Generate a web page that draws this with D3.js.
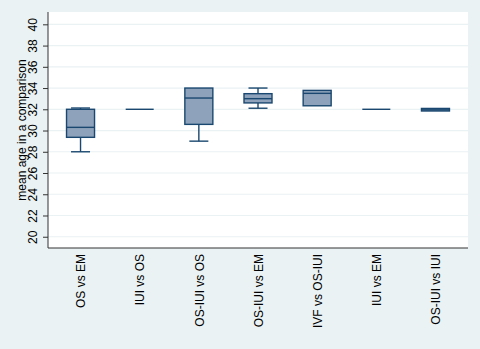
<!DOCTYPE html>
<html>
<head>
<meta charset="utf-8">
<script src="https://cdn.jsdelivr.net/npm/d3@7"></script>
<style>
  body { margin: 0; background: #eaf2f3; }
  text { font-family: "Liberation Sans", Arial, sans-serif; fill: #000; }
</style>
</head>
<body>
<script>
var w = 480;
var h = 349;

// data
var categories = ["OS vs EM", "IUI vs OS", "OS-IUI vs OS", "OS-IUI vs EM", "IVF vs OS-IUI", "IUI vs EM", "OS-IUI vs IUI"];
var whiskLow  = [28.0, 32.0, 29.0, 32.1, 32.33, 32.0, 31.84];
var q1        = [29.36, 32.0, 30.58, 32.6, 32.33, 32.0, 31.84];
var median    = [30.3, 32.0, 33.06, 33.0, 33.5, 32.0, 31.95];
var q3        = [32.0, 32.0, 34.0, 33.47, 33.78, 32.0, 32.08];
var whiskHigh = [32.12, 32.0, 34.0, 34.0, 33.78, 32.0, 32.08];
var yTicks = [20, 22, 24, 26, 28, 30, 32, 34, 36, 38, 40];

var margin = {top: 12, right: 12, bottom: 101, left: 48};

var svg = d3.select("body")
            .append("svg")
            .attr("width", w)
            .attr("height", h);

svg.append("rect")
   .attr("width", w).attr("height", h)
   .attr("fill", "#eaf2f3");

var x = d3.scalePoint()
          .domain(categories)
          .range([margin.left, w - margin.right])
          .padding(0.55);

var y = d3.scaleLinear()
          .domain([18.94, 41.16])
          .range([h - margin.bottom, margin.top]);

// plot area
svg.append("rect")
   .attr("x", margin.left)
   .attr("y", margin.top)
   .attr("width", w - margin.left - margin.right)
   .attr("height", h - margin.top - margin.bottom)
   .attr("fill", "#fff");

// gridlines
svg.selectAll("line.grid")
   .data(yTicks)
   .enter()
   .append("line")
   .attr("class", "grid")
   .attr("x1", margin.left)
   .attr("x2", w - margin.right)
   .attr("y1", function(d){ return y(d); })
   .attr("y2", function(d){ return y(d); })
   .attr("stroke", "#eaf2f3")
   .attr("stroke-width", 1.2);

var data = categories.map(function(c, i){
    return {cat: c, lo: whiskLow[i], q1: q1[i], med: median[i], q3: q3[i], hi: whiskHigh[i]};
});

var boxW = 28, capW = 19;
var stroke = "#1a476f";

var g = svg.selectAll("g.box")
           .data(data)
           .enter()
           .append("g")
           .attr("class", "box")
           .attr("transform", function(d){ return "translate(" + x(d.cat) + ",0)"; });

// whiskers
g.filter(function(d){ return d.lo < d.q1; }).each(function(d){
    var s = d3.select(this);
    s.append("line").attr("x1", 0).attr("x2", 0).attr("y1", y(d.q1)).attr("y2", y(d.lo))
     .attr("stroke", stroke).attr("stroke-width", 1.4);
    s.append("line").attr("x1", -capW/2).attr("x2", capW/2).attr("y1", y(d.lo)).attr("y2", y(d.lo))
     .attr("stroke", stroke).attr("stroke-width", 1.4);
});
g.filter(function(d){ return d.hi > d.q3; }).each(function(d){
    var s = d3.select(this);
    s.append("line").attr("x1", 0).attr("x2", 0).attr("y1", y(d.q3)).attr("y2", y(d.hi))
     .attr("stroke", stroke).attr("stroke-width", 1.4);
    s.append("line").attr("x1", -capW/2).attr("x2", capW/2).attr("y1", y(d.hi)).attr("y2", y(d.hi))
     .attr("stroke", stroke).attr("stroke-width", 1.4);
});

// boxes
g.append("rect")
 .attr("x", -boxW/2)
 .attr("width", boxW)
 .attr("y", function(d){ return y(d.q3); })
 .attr("height", function(d){ return Math.max(0, y(d.q1) - y(d.q3)); })
 .attr("fill", "#8ea3bb")
 .attr("stroke", stroke)
 .attr("stroke-width", 1.4);

g.append("line")
 .attr("x1", -boxW/2).attr("x2", boxW/2)
 .attr("y1", function(d){ return y(d.med); })
 .attr("y2", function(d){ return y(d.med); })
 .attr("stroke", stroke)
 .attr("stroke-width", 1.4);

// y axis
var yAxis = svg.append("g")
   .attr("transform", "translate(" + margin.left + ",0)")
   .call(d3.axisLeft(y).tickValues(yTicks).tickSize(5).tickPadding(4).tickSizeOuter(0));
yAxis.select(".domain").attr("stroke", "#333").attr("d", "M0," + margin.top + "V" + (h - margin.bottom));
yAxis.selectAll(".tick line").attr("stroke", "#333");
yAxis.selectAll(".tick text")
     .attr("font-size", 12)
     .attr("text-anchor", "middle")
     .attr("x", null)
     .attr("transform", "translate(-15,0) rotate(-90)")
     .attr("y", 0)
     .attr("dy", "0.35em");

// x axis (no ticks)
var xAxis = svg.append("g")
   .attr("transform", "translate(0," + (h - margin.bottom) + ")")
   .call(d3.axisBottom(x).tickSize(0).tickPadding(0));
xAxis.select(".domain").attr("stroke", "#333").attr("d", "M" + margin.left + ",0H" + (w - margin.right));
xAxis.selectAll(".tick text")
     .attr("font-size", 12)
     .attr("text-anchor", "end")
     .attr("y", 0)
     .attr("transform", "translate(0,6) rotate(-90)")
     .attr("dy", "0.35em");

// y title
svg.append("text")
   .attr("transform", "translate(22," + ((margin.top + h - margin.bottom) / 2) + ") rotate(-90)")
   .attr("text-anchor", "middle")
   .attr("dy", "0.35em")
   .attr("font-size", 12)
   .text("mean age in a comparison");
</script>
</body>
</html>
